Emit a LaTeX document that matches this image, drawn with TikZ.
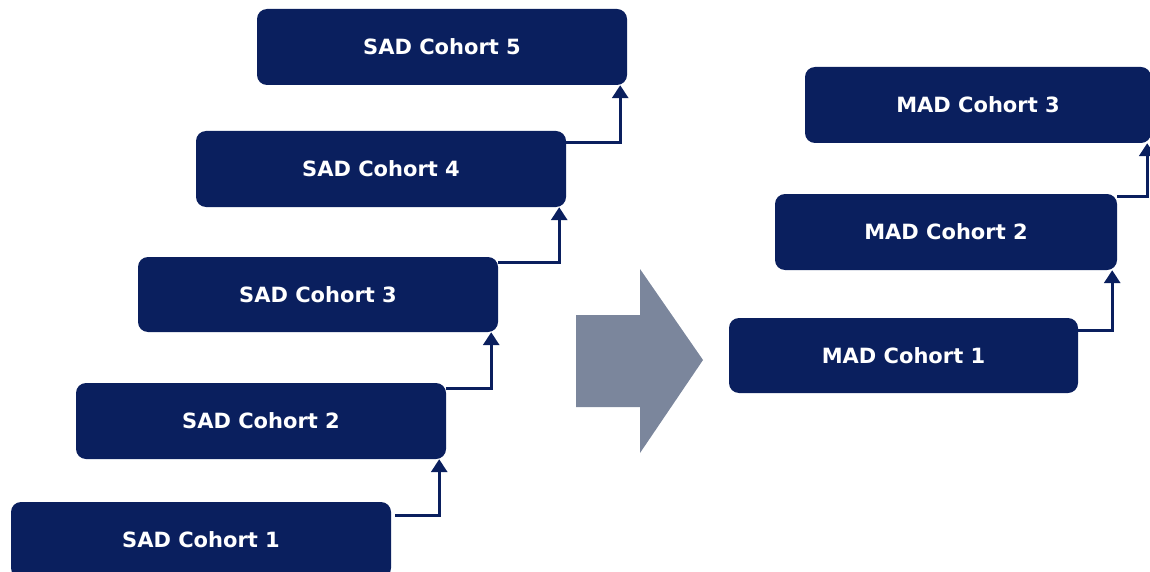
\documentclass[tikz,border=0pt]{standalone}
\usepackage{fontspec}
\setmainfont{DejaVu Sans}
\usetikzlibrary{arrows.meta}
\definecolor{cohortNavy}{HTML}{0A1F5E}
\definecolor{stepGrey}{HTML}{7B869C}
\tikzset{
  cohort/.style={fill=cohortNavy, rounded corners=10pt, text=white, inner sep=0pt,
    minimum height=76pt, font={\fontsize{21}{25}\selectfont\bfseries}},
  flow/.style={draw=cohortNavy, line width=3pt, -{Triangle[width=16pt,length=13pt]}}
}
\begin{document}
\begin{tikzpicture}[x=1pt,y=-1pt]
\useasboundingbox (0,0) rectangle (1150,572);
\clip (0,0) rectangle (1150,572);
% SAD cohorts
\node[cohort, minimum width=380pt] (sad1) at (201,540) {SAD Cohort 1};
\node[cohort, minimum width=370pt] (sad2) at (261,421) {SAD Cohort 2};
\node[cohort, minimum width=360pt, minimum height=75pt] (sad3) at (318,294.5) {SAD Cohort 3};
\node[cohort, minimum width=370pt] (sad4) at (381,169) {SAD Cohort 4};
\node[cohort, minimum width=370pt] (sad5) at (442,47) {SAD Cohort 5};
% MAD cohorts
\node[cohort, minimum width=349pt, minimum height=75pt] (mad1) at (903.5,355.5) {MAD Cohort 1};
\node[cohort, minimum width=342pt] (mad2) at (946,232) {MAD Cohort 2};
\node[cohort, minimum width=346pt] (mad3) at (978,105) {MAD Cohort 3};
% step connectors
\draw[flow] ([xshift=4pt,yshift=-14pt]sad1.north east) -| ([xshift=-7pt]sad2.south east);
\draw[flow] ([yshift=-6pt]sad2.north east) -| ([xshift=-7pt]sad3.south east);
\draw[flow] ([yshift=-6pt]sad3.north east) -| ([xshift=-7pt]sad4.south east);
\draw[flow] ([yshift=-12pt]sad4.north east) -| ([xshift=-7pt]sad5.south east);
\draw[flow] ([yshift=-13pt]mad1.north east) -| ([xshift=-5pt]mad2.south east);
\draw[flow] ([yshift=-3pt]mad2.north east) -| ([xshift=-4pt]mad3.south east);
% big arrow
\fill[stepGrey] (576,315) -- (640,315) -- (640,269) -- (703,360) -- (640,453)
  -- (640,407) -- (576,407) -- cycle;
\end{tikzpicture}
\end{document}
